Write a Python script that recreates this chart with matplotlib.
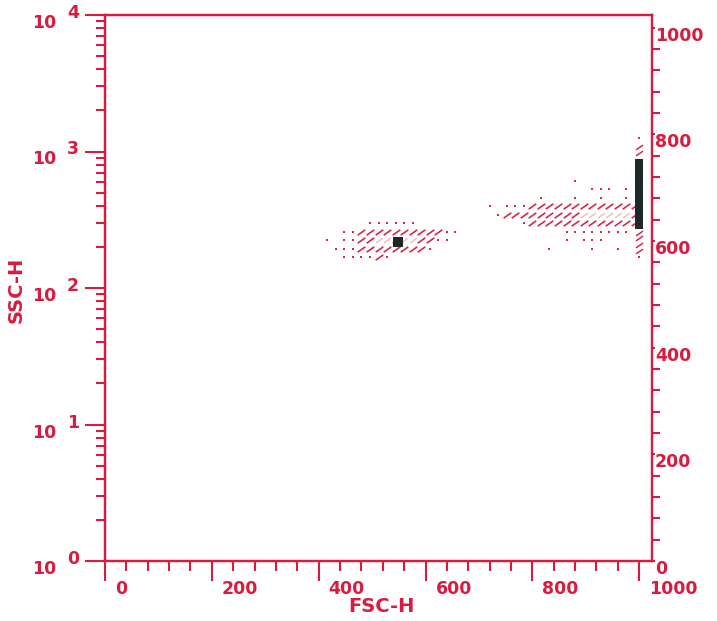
import matplotlib
matplotlib.use('Agg')
import matplotlib.pyplot as plt
from matplotlib.path import Path
from matplotlib.ticker import FixedLocator, MultipleLocator, LogLocator, NullFormatter
from matplotlib.transforms import ScaledTranslation

RED = '#d81b3f'
DOT = '#d6284a'
PALE = '#f0b9c4'
DARK = '#1d2828'

# ---------------- data ----------------
fsc_ticks = [0, 200, 400, 600, 800, 1000]
right_ticks = [0, 200, 400, 600, 800, 1000]
ssc_decades = [0, 1, 2, 3, 4]

# cluster 1: sparse events (SSC row value -> FSC channels)
c1_sparse_y = [297, 257, 223, 193, 168]
c1_sparse_x = [
    [496, 512, 528, 544, 560, 576],
    [448, 464, 640, 656],
    [416, 448, 464, 624, 640],
    [432, 448, 464, 608],
    [448, 464, 480, 496, 528],
]
# cluster 1: dense cells
c1_dense_y = [257, 223, 193, 168]
c1_dense_x = [
    [480, 496, 512, 528, 544, 560, 576, 592, 608, 624],
    [480, 496, 544, 592, 608],
    [480, 496, 512, 528, 544, 560, 576, 592],
    [512],
]
# cluster 1: mid-density (pale) cells
c1_pale_y = [223]
c1_pale_x = [[512, 528, 560, 576]]
# cluster 1: peak cell
c1_peak_x = [548]
c1_peak_y = [216]

# cluster 2: sparse events
c2_sparse_y = [608, 527, 457, 396, 343, 297, 257, 223, 193]
c2_sparse_x = [
    [880],
    [912, 928, 944, 976],
    [816, 880, 928, 976],
    [720, 752, 768, 784],
    [736],
    [784],
    [864, 880, 896, 912, 928, 944, 960, 976],
    [864, 896, 912, 928],
    [832, 912, 960],
]
# cluster 2: dense cells
c2_dense_y = [396, 343, 297]
c2_dense_x = [
    [800, 816, 832, 848, 864, 880, 896, 912, 928, 944, 960, 976, 992],
    [752, 768, 784, 800, 816, 832, 848, 864, 880, 992],
    [800, 816, 832, 848, 864, 880, 896, 912, 928, 944, 960, 976, 992],
]
c2_pale_y = [343]
c2_pale_x = [[896, 912, 928, 944, 960, 976]]

# saturated column at the top FSC channel
sat_x = 1000
sat_low, sat_high = 269, 880
sat_dense_y = [1074, 970, 251, 231, 208, 188]
sat_sparse_y = [1250, 168]

# ---------------- figure ----------------
W, H = 717, 621
fig = plt.figure(figsize=(W / 100, H / 100), dpi=100)
L, R, T, B = 105, 652, 15, 561
ax = fig.add_axes([L / W, (H - B) / H, (R - L) / W, (B - T) / H])
ax.set_xlim(0, 1024)
ax.set_yscale('log')
ax.set_ylim(1, 1e4)

for s in ax.spines.values():
    s.set_color(RED)
    s.set_linewidth(1.6)

def flatten(ys, xs):
    px, py = [], []
    for y, row in zip(ys, xs):
        for x in row:
            px.append(x)
            py.append(y)
    return px, py

stroke = Path([(-1, -0.7), (1, 0.7)], [Path.MOVETO, Path.LINETO])

for ys, xs in [(c1_dense_y, c1_dense_x), (c2_dense_y, c2_dense_x)]:
    x, y = flatten(ys, xs)
    ax.plot(x, y, ls='none', marker=stroke, ms=5.5, mew=1.2, color=DOT, zorder=3)
for ys, xs in [(c1_pale_y, c1_pale_x), (c2_pale_y, c2_pale_x)]:
    x, y = flatten(ys, xs)
    ax.plot(x, y, ls='none', marker=stroke, ms=5, mew=1.0, color=PALE, zorder=3)
for ys, xs in [(c1_sparse_y, c1_sparse_x), (c2_sparse_y, c2_sparse_x)]:
    x, y = flatten(ys, xs)
    ax.plot(x, y, ls='none', marker='s', ms=1.7, mew=0, color=DOT, zorder=3)

ax.plot([sat_x] * len(sat_dense_y), sat_dense_y, ls='none', marker=stroke,
        ms=5, mew=1.1, color=DOT, zorder=3)
ax.plot([sat_x] * len(sat_sparse_y), sat_sparse_y, ls='none', marker='s',
        ms=1.7, mew=0, color=DOT, zorder=3)
ax.bar([sat_x], [sat_high - sat_low], bottom=sat_low, width=14, color=DARK, zorder=4)
ax.plot(c1_peak_x, c1_peak_y, ls='none', marker='s', ms=6.5, mew=0, color=DARK, zorder=5)

# ---------------- ticks ----------------
ax.xaxis.set_major_locator(FixedLocator(fsc_ticks))
ax.xaxis.set_minor_locator(MultipleLocator(40))
ax.xaxis.set_major_formatter(NullFormatter())
ax.tick_params(axis='x', which='major', length=14.5, width=1.5, color=RED, direction='out')
ax.tick_params(axis='x', which='minor', length=7, width=1.5, color=RED, direction='out')

ax.yaxis.set_major_locator(FixedLocator([10 ** d for d in ssc_decades]))
ax.yaxis.set_minor_locator(LogLocator(base=10, subs=range(2, 10)))
ax.yaxis.set_major_formatter(NullFormatter())
ax.yaxis.set_minor_formatter(NullFormatter())
ax.tick_params(axis='y', which='major', length=14.5, width=1.5, color=RED, direction='out')
ax.tick_params(axis='y', which='minor', length=6.5, width=1.5, color=RED, direction='out')

ax2 = ax.twinx()
ax2.set_ylim(0, 1024)
ax2.yaxis.set_major_locator(FixedLocator(right_ticks))
ax2.yaxis.set_minor_locator(MultipleLocator(40))
ax2.yaxis.set_major_formatter(NullFormatter())
ax2.tick_params(axis='y', which='major', length=2, width=1.5, color=RED, direction='out')
ax2.tick_params(axis='y', which='minor', length=6, width=1.5, color=RED, direction='out')
for s in ax2.spines.values():
    s.set_color(RED)
    s.set_linewidth(1.6)

def off(dx, dy):
    return ScaledTranslation(dx / 100, dy / 100, fig.dpi_scale_trans)

fprops = dict(family='DejaVu Sans', weight='bold', color=RED)

for v in fsc_ticks:
    ax.text(v, 0, str(v), transform=ax.get_xaxis_transform() + off(10, -19),
            ha='left', va='top', fontsize=12.5, **fprops)

for v in right_ticks:
    ax2.text(1, v, str(v), transform=ax2.get_yaxis_transform() + off(3, 1),
             ha='left', va='top', fontsize=12.5, **fprops)

for d in ssc_decades:
    ax.text(0, 10 ** d, '10', transform=ax.get_yaxis_transform() + off(-73, 1),
            ha='left', va='top', fontsize=12.5, **fprops)
    ax.text(0, 10 ** d, str(d), transform=ax.get_yaxis_transform() + off(-38, 2),
            ha='left', va='center', fontsize=12.5, **fprops)

ax.text(0.5, 0, 'FSC-H', transform=ax.transAxes + off(3, -46),
        ha='center', va='center', fontsize=14, **fprops)
ax.text(0, 0.5, 'SSC-H', transform=ax.transAxes + off(-89, -2), rotation=90,
        ha='center', va='center', fontsize=14, **fprops)

fig.savefig('out.png', dpi=100)
